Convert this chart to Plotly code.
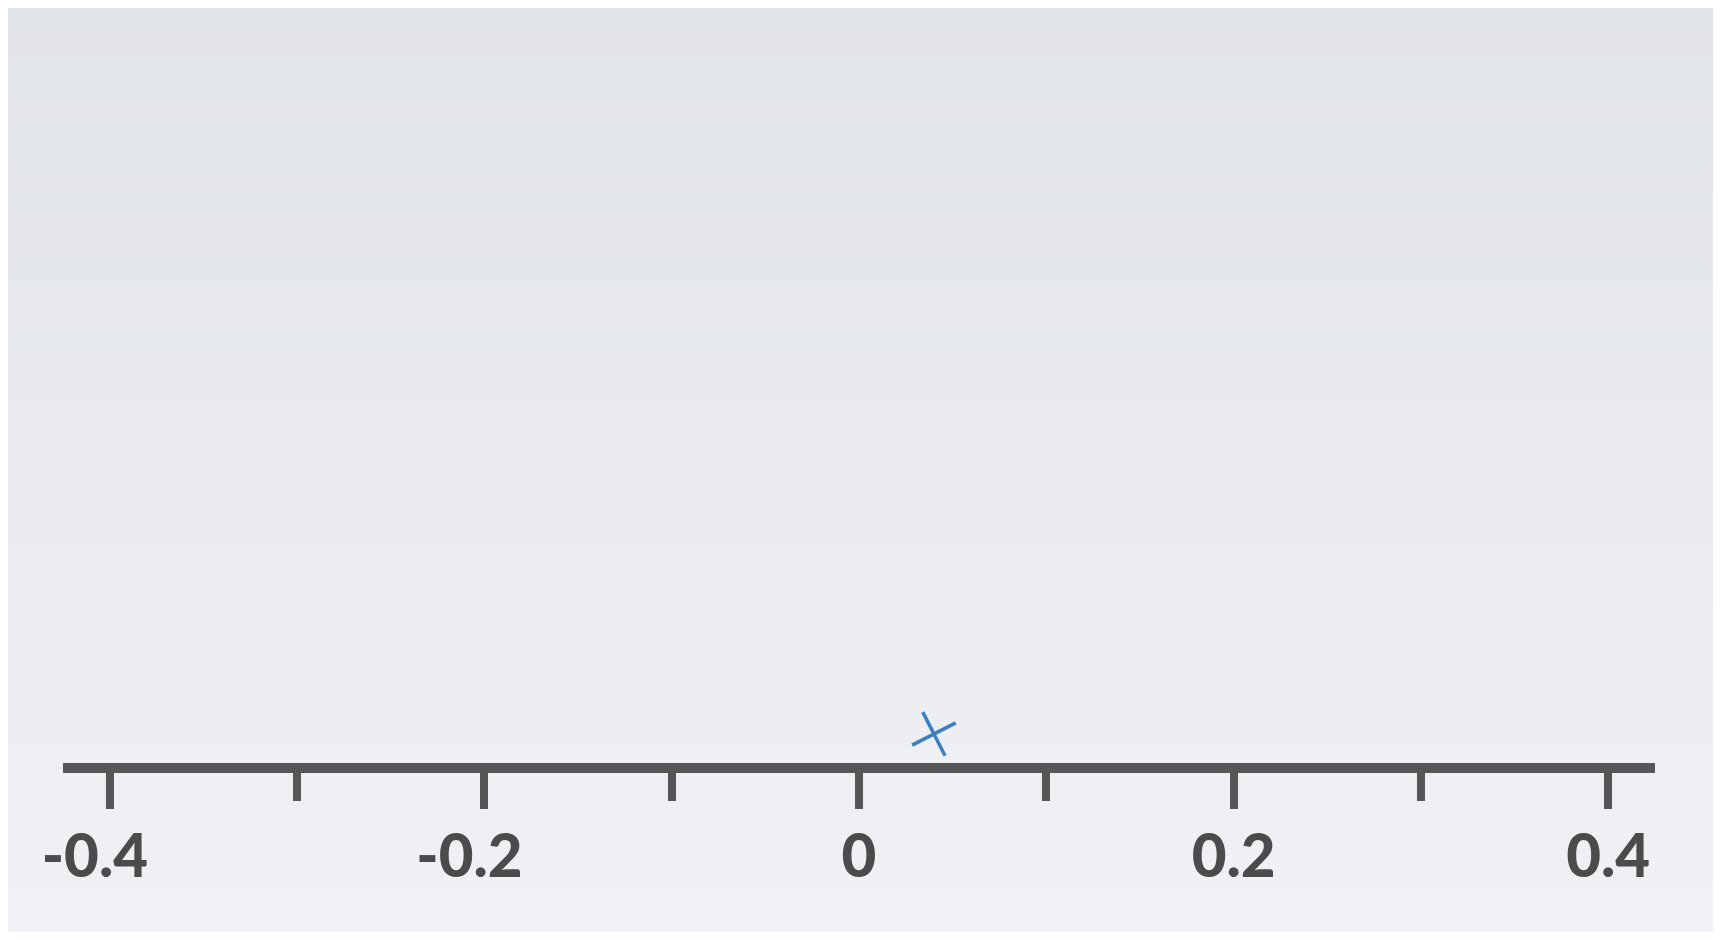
import plotly.graph_objects as go

# Data
point_x = [0.04]
point_y = [0]
tick_vals = [-0.4, -0.2, 0, 0.2, 0.4]
tick_text = ["-0.4\u2002", "-0.2\u2002", "0", "0.2", "0.4"]
x_range = [-0.425, 0.425]

# page body has an 8px margin, so the figure is sized to fit inside the window
W, H = 1707, 924
L, R, T, B = 55, 60, 0, 169
pw, ph = W - L - R, H - T - B

def px_to_paper_x(px):
    return (px - L) / pw

def px_to_paper_y(py):
    return (H - B - py) / ph

# background gradient bands (decoration)
shapes = []
top_c = (0xE1, 0xE4, 0xE8)
bot_c = (0xF0, 0xF1, 0xF4)
y_top, y_bot = 0, 924
n = 40
for i in range(n):
    f = (i + 0.5) / n
    c = tuple(round(top_c[k] + (bot_c[k] - top_c[k]) * f) for k in range(3))
    ya = y_top + (y_bot - y_top) * i / n
    yb = y_top + (y_bot - y_top) * (i + 1) / n + 0.6
    shapes.append(dict(
        type="rect", xref="paper", yref="paper", layer="below",
        x0=px_to_paper_x(0), x1=px_to_paper_x(1705),
        y0=px_to_paper_y(min(yb, y_bot)), y1=px_to_paper_y(ya),
        fillcolor="rgb(%d,%d,%d)" % c, line=dict(width=0),
    ))

fig = go.Figure()
fig.add_trace(go.Scatter(
    x=point_x, y=point_y, mode="markers",
    marker=dict(symbol="cross-thin", size=35, angle=-27,
                line=dict(width=3.5, color="#3b7fc0"), color="#3b7fc0"),
    showlegend=False, hoverinfo="x",
))

fig.update_layout(
    width=W, height=H,
    margin=dict(l=L, r=R, t=T, b=B),
    paper_bgcolor="white",
    plot_bgcolor="rgba(0,0,0,0)",
    shapes=shapes,
    xaxis=dict(
        range=x_range, showgrid=False, zeroline=False,
        showline=True, linewidth=10, linecolor="#555657",
        ticks="outside", ticklen=36, tickwidth=7.5, tickcolor="#555657",
        tickvals=tick_vals, ticktext=tick_text,
        tickfont=dict(family="Lato", size=60, color="#4b4b4d", weight=900),
        ticklabelstandoff=-4,
        minor=dict(dtick=0.1, tick0=0, ticks="outside", ticklen=28,
                   tickwidth=7.5, tickcolor="#555657", showgrid=False),
        fixedrange=True,
    ),
    yaxis=dict(range=[-0.04, 1], visible=False, showgrid=False,
               zeroline=False, fixedrange=True),
)

fig.write_html("out.html")
